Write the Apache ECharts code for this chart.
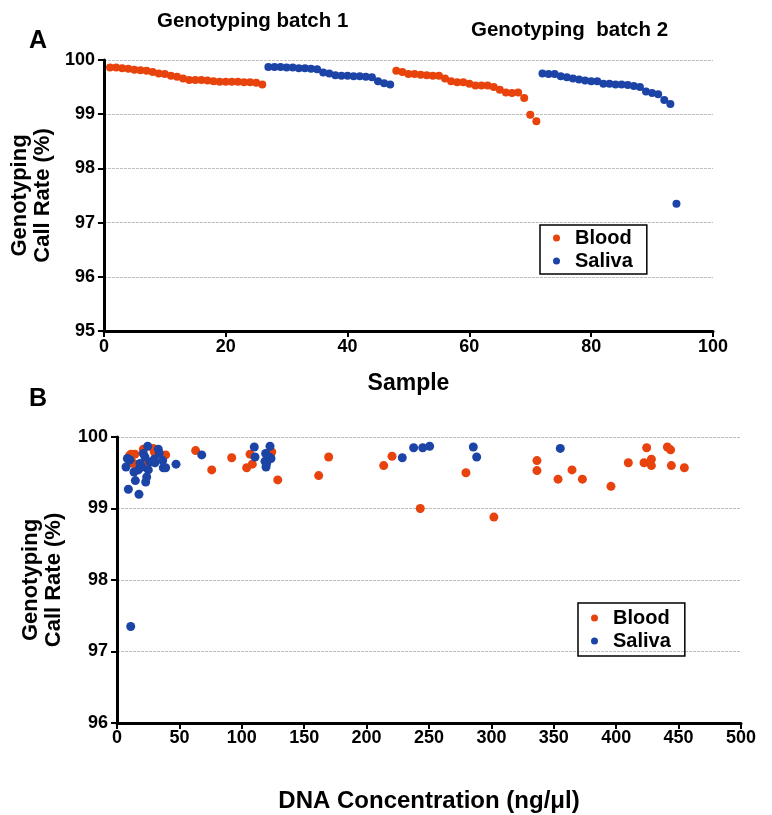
<!DOCTYPE html>
<html>
<head>
<meta charset="utf-8">
<script src="https://cdn.jsdelivr.net/npm/echarts@6/dist/echarts.min.js"></script>
<style>
html,body{margin:0;padding:0;background:#fff;}
#chart{width:772px;height:815px;}
</style>
</head>
<body>
<div id="chart"></div>
<script>
// ---------- Panel A data (sample number -> call rate %) ----------
const bloodBatch1Start = 1;
const bloodBatch1 = [99.86,99.86,99.85,99.84,99.82,99.81,99.80,99.78,99.75,99.74,99.71,99.69,99.66,99.63,99.63,99.63,99.62,99.61,99.60,99.60,99.60,99.60,99.59,99.59,99.58,99.55];
const salivaBatch1Start = 27;
const salivaBatch1 = [99.87,99.87,99.87,99.86,99.86,99.85,99.85,99.84,99.83,99.77,99.75,99.72,99.71,99.71,99.70,99.70,99.69,99.68,99.61,99.57,99.55];
const bloodBatch2Start = 48;
const bloodBatch2 = [99.80,99.78,99.74,99.74,99.73,99.72,99.71,99.71,99.66,99.61,99.59,99.59,99.56,99.53,99.53,99.53,99.50,99.45,99.40,99.39,99.40,99.30,98.99,98.87];
const salivaBatch2Start = 72;
const salivaBatch2 = [99.75,99.74,99.74,99.70,99.68,99.66,99.64,99.62,99.61,99.61,99.56,99.56,99.55,99.55,99.54,99.52,99.50,99.42,99.39,99.37,99.26,99.19,97.35];

// ---------- Panel B data (DNA concentration ng/ul, call rate %) ----------
const bloodConc = [10,11.2,14.4,21.1,29.1,29.9,39,13.1,11.8,17.9,21.9,63,75.9,91.9,103.9,106.6,108.4,124,128.8,161.6,169.6,213.7,220.4,243,279.6,302,336.5,336.5,353.4,364.6,372.9,395.8,409.7,422.3,424.4,428.2,428.2,441,443.6,444.2,454.6];
const bloodRate = [99.74,99.76,99.76,99.83,99.84,99.79,99.75,99.63,99.65,99.62,99.62,99.81,99.54,99.71,99.57,99.76,99.62,99.79,99.40,99.46,99.72,99.60,99.73,99.00,99.50,98.88,99.67,99.53,99.41,99.54,99.41,99.31,99.64,99.64,99.85,99.69,99.60,99.86,99.82,99.60,99.57];
const salivaConc = [7.2,8.3,10.4,9.1,14.7,17.6,13.6,17.1,18.4,21.1,24.6,22.4,25.1,23.8,23,26.4,30.4,33.1,33.9,36.6,37.1,39,29.9,19.8,11,47.3,67.9,110,110.6,119.1,118.6,119.9,119.4,122.6,122,123.4,228.6,237.7,245,250.5,285.5,288.2,355.2];
const salivaRate = [99.58,99.70,99.68,99.27,99.39,99.20,99.51,99.54,99.63,99.77,99.87,99.72,99.54,99.44,99.37,99.65,99.64,99.83,99.77,99.67,99.57,99.57,99.69,99.58,97.35,99.62,99.75,99.86,99.72,99.77,99.66,99.63,99.58,99.87,99.72,99.70,99.71,99.85,99.85,99.87,99.86,99.72,99.84];

// ---------- Tick settings ----------
const sampleTicks = {min:0, max:100, interval:20};
const rateTicksA = {min:95, max:100, interval:1};
const concTicks = {min:0, max:500, interval:50};
const rateTicksB = {min:96, max:100, interval:1};

const RED = '#e8430c';
const BLUE = '#1c44a6';
const FONT = "'Liberation Sans',Arial,sans-serif";

function seq(start, vals){ return vals.map((v,i)=>[start+i, v]); }
function pairs(xs, ys){ return xs.map((x,i)=>[x, ys[i]]); }

const axisLineStyle = {lineStyle:{color:'#000', width:3}};
const tickStyle = {show:true, length:6, lineStyle:{color:'#000', width:2}};
const labelStyle = {color:'#000', fontWeight:'bold', fontSize:18, fontFamily:FONT};
const gridLine = {show:true, lineStyle:{color:'#bdbdbd', width:1, type:[3,1]}};
const nameStyle = {fontSize:22, fontWeight:'bold', color:'#000', fontFamily:FONT, lineHeight:23};
const legendText = {fontSize:20, fontWeight:'bold', color:'#000', fontFamily:FONT, padding:[0,0,0,10]};

const chart = echarts.init(document.getElementById('chart'), null, {renderer:'canvas'});
chart.setOption({
  animation:false,
  backgroundColor:'#fff',
  title:[
    {text:'A', left:29, top:29, padding:0, textStyle:{fontSize:25, fontWeight:'bold', color:'#000', fontFamily:FONT}},
    {text:'B', left:29, top:387, padding:0, textStyle:{fontSize:25, fontWeight:'bold', color:'#000', fontFamily:FONT}},
    {text:'Genotyping batch 1', left:157, top:11, padding:0, textStyle:{fontSize:20.5, fontWeight:'bold', color:'#000', fontFamily:FONT}},
    {text:'Genotyping  batch 2', left:471, top:20, padding:0, textStyle:{fontSize:20.5, fontWeight:'bold', color:'#000', fontFamily:FONT}}
  ],
  legend:[
    {left:540, top:225, orient:'vertical', data:['Blood','Saliva'], icon:'circle', itemWidth:7, itemHeight:7, itemGap:3,
     padding:[3,14,3,13], borderColor:'#000', borderWidth:1.5, textStyle:legendText},
    {left:578, top:603, orient:'vertical', data:['Blood','Saliva'], icon:'circle', itemWidth:7, itemHeight:7, itemGap:3,
     padding:[5,14,5,13], borderColor:'#000', borderWidth:1.5, textStyle:legendText}
  ],
  grid:[
    {left:95, top:60, width:618, height:271},
    {left:117, top:437, width:624, height:286}
  ],
  xAxis:[
    {gridIndex:0, type:'value', min:sampleTicks.min, max:sampleTicks.max, interval:sampleTicks.interval,
     axisLine:axisLineStyle, axisTick:tickStyle, axisLabel:Object.assign({margin:7}, labelStyle), splitLine:{show:false},
     name:'Sample', nameLocation:'middle', nameGap:41, nameTextStyle:{fontSize:23, fontWeight:'bold', color:'#000', fontFamily:FONT}},
    {gridIndex:1, type:'value', min:concTicks.min, max:concTicks.max, interval:concTicks.interval,
     axisLine:axisLineStyle, axisTick:tickStyle, axisLabel:Object.assign({margin:6}, labelStyle), splitLine:{show:false},
     name:'DNA Concentration (ng/μl)', nameLocation:'middle', nameGap:66, nameTextStyle:{fontSize:24, fontWeight:'bold', color:'#000', fontFamily:FONT}}
  ],
  yAxis:[
    {gridIndex:0, type:'value', min:rateTicksA.min, max:rateTicksA.max, interval:rateTicksA.interval,
     axisLine:axisLineStyle, axisTick:tickStyle, axisLabel:Object.assign({margin:9}, labelStyle), splitLine:gridLine,
     name:'Genotyping\nCall Rate (%)', nameLocation:'middle', nameGap:40, nameTextStyle:nameStyle},
    {gridIndex:1, type:'value', min:rateTicksB.min, max:rateTicksB.max, interval:rateTicksB.interval,
     axisLine:axisLineStyle, axisTick:tickStyle, axisLabel:Object.assign({margin:9}, labelStyle), splitLine:gridLine,
     name:'Genotyping\nCall Rate (%)', nameLocation:'middle', nameGap:52, nameTextStyle:nameStyle}
  ],
  series:[
    {name:'Blood', type:'scatter', xAxisIndex:0, yAxisIndex:0, symbolSize:8, itemStyle:{color:RED, opacity:1}, data:seq(bloodBatch1Start, bloodBatch1).concat(seq(bloodBatch2Start, bloodBatch2))},
    {name:'Saliva', type:'scatter', xAxisIndex:0, yAxisIndex:0, symbolSize:8, itemStyle:{color:BLUE, opacity:1}, data:seq(salivaBatch1Start, salivaBatch1).concat(seq(salivaBatch2Start, salivaBatch2))},
    {name:'Blood', type:'scatter', xAxisIndex:1, yAxisIndex:1, symbolSize:9, itemStyle:{color:RED, opacity:1}, data:pairs(bloodConc, bloodRate)},
    {name:'Saliva', type:'scatter', xAxisIndex:1, yAxisIndex:1, symbolSize:9, itemStyle:{color:BLUE, opacity:1}, data:pairs(salivaConc, salivaRate)}
  ]
});
</script>
</body>
</html>
